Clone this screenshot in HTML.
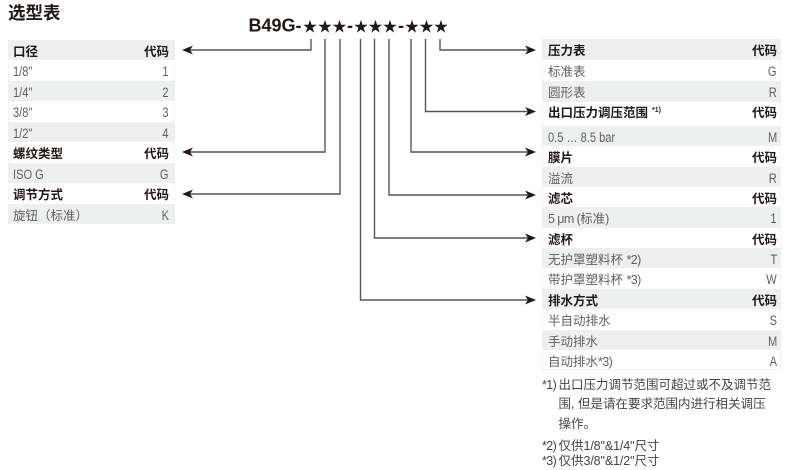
<!DOCTYPE html>
<html lang="zh">
<head>
<meta charset="utf-8">
<style>
html,body{margin:0;padding:0;background:#fff}
#p{position:relative;width:790px;height:470px;overflow:hidden;background:#fff;font-family:"Liberation Sans","Noto Sans CJK SC",sans-serif;color:#5f5f5f}
.r{position:absolute;box-sizing:border-box;font-size:12.5px;white-space:nowrap}
.l{left:8px;width:167px}
.n{left:542px;width:239px}
.g{background:#eef0ef}
.w{background:#fff;box-shadow:inset 1px 0 #f3f4f3,inset -1px 0 #f3f4f3}
.r b,.r i{position:absolute;font-style:normal;font-weight:normal;top:calc(50% + 1.5px);transform:translateY(-50%);line-height:16px}
.r b{left:5px}
.n b{left:6px}
.r i{right:5px}
.l i{right:6px}
.n i{right:4px}
.h{color:#231815;font-size:12.5px}
.h b,.h i{font-weight:bold}
.c{display:inline-block;font-size:13.5px;transform:scaleX(.82);transform-origin:0 50%}
.r i .c{transform-origin:100% 50%}
sup{font-size:7px;line-height:0;vertical-align:5px;margin-left:4px}
.t{position:absolute;white-space:nowrap;line-height:16px;font-size:12.5px;color:#444}
.s{letter-spacing:-.6px}
.q{letter-spacing:-.15px}
svg{position:absolute;left:0;top:0}
</style>
</head>
<body>
<div id="p">
<div class="t" style="left:8px;top:3px;font-size:17.5px;line-height:20px;color:#231815;font-weight:bold">选型表</div>

<div class="r l g h" style="top:40px;height:20px"><b>口径</b><i>代码</i></div>
<div class="r l w" style="top:60px;height:21px"><b><span class="c">1/8"</span></b><i><span class="c">1</span></i></div>
<div class="r l g" style="top:81px;height:20px"><b><span class="c">1/4"</span></b><i><span class="c">2</span></i></div>
<div class="r l w" style="top:101px;height:21px"><b><span class="c">3/8"</span></b><i><span class="c">3</span></i></div>
<div class="r l g" style="top:122px;height:20px"><b><span class="c">1/2"</span></b><i><span class="c">4</span></i></div>
<div class="r l w h" style="top:142px;height:21px"><b>螺纹类型</b><i>代码</i></div>
<div class="r l g" style="top:163px;height:20px"><b><span class="c">ISO G</span></b><i><span class="c">G</span></i></div>
<div class="r l w h" style="top:183px;height:21px"><b>调节方式</b><i>代码</i></div>
<div class="r l g" style="top:204px;height:20px"><b>旋钮（标准）</b><i><span class="c">K</span></i></div>

<div class="r n g h" style="top:39px;height:21px"><b>压力表</b><i>代码</i></div>
<div class="r n w" style="top:60px;height:21px"><b>标准表</b><i><span class="c">G</span></i></div>
<div class="r n g" style="top:81px;height:21px"><b>圆形表</b><i><span class="c">R</span></i></div>
<div class="r n w h" style="top:102px;height:24px"><b style="top:calc(50% - 1px)">出口压力调压范围<sup>*1)</sup></b><i style="top:calc(50% - 1px)">代码</i></div>
<div class="r n g" style="top:126px;height:20px"><b><span class="c">0.5 … 8.5 bar</span></b><i><span class="c">M</span></i></div>
<div class="r n w h" style="top:146px;height:21px"><b>膜片</b><i>代码</i></div>
<div class="r n g" style="top:167px;height:20px"><b>溢流</b><i><span class="c">R</span></i></div>
<div class="r n w h" style="top:187px;height:20px"><b>滤芯</b><i>代码</i></div>
<div class="r n g" style="top:207px;height:21px"><b><span class="s">5 μm (</span>标准<span class="s">)</span></b><i><span class="c">1</span></i></div>
<div class="r n w h" style="top:228px;height:20px"><b>滤杯</b><i>代码</i></div>
<div class="r n g" style="top:248px;height:20px"><b>无护罩塑料杯 <span class="s">*2)</span></b><i><span class="c">T</span></i></div>
<div class="r n w" style="top:268px;height:21px"><b>带护罩塑料杯 <span class="s">*3)</span></b><i><span class="c">W</span></i></div>
<div class="r n g h" style="top:289px;height:20px"><b>排水方式</b><i>代码</i></div>
<div class="r n w" style="top:309px;height:21px"><b>半自动排水</b><i><span class="c">S</span></i></div>
<div class="r n g" style="top:330px;height:20px"><b>手动排水</b><i><span class="c">M</span></i></div>
<div class="r n w" style="top:350px;height:20px;box-shadow:inset 1px 0 #f0f1f0,inset -1px 0 #f0f1f0,inset 0 -1px #f0f1f0"><b>自动排水<span class="s">*3)</span></b><i><span class="c">A</span></i></div>

<div class="t s" style="left:542px;top:377px">*1)</div>
<div class="t" style="left:558.5px;top:377px">出口压力调节范围可超过或不及调节范</div>
<div class="t" style="left:558.5px;top:396px">围, 但是请在要求范围内进行相关调压</div>
<div class="t" style="left:558.5px;top:416px">操作。</div>
<div class="t s" style="left:542px;top:438px">*2)</div>
<div class="t" style="left:558.5px;top:438px">仅供<span class="q">1/8''&amp;1/4''</span>尺寸</div>
<div class="t s" style="left:542px;top:453px">*3)</div>
<div class="t" style="left:558.5px;top:453px">仅供<span class="q">3/8''&amp;1/2''</span>尺寸</div>

<svg width="790" height="470" viewBox="0 0 790 470">
<g fill="none" stroke="#5a5552" stroke-width="1.4">
<path d="M311 39V50H190"/>
<path d="M325 39V152H190"/>
<path d="M340 39V194H190"/>
<path d="M360.5 39V300H530"/>
<path d="M374.5 39V238H530"/>
<path d="M389 39V195H530"/>
<path d="M411 39V152H530"/>
<path d="M425.5 39V111.5H530"/>
<path d="M440 39V50H530"/>
</g>
<g fill="#231815">
<path d="M182 50L193 45.5L190 50L193 54.5Z"/>
<path d="M182 152L193 147.5L190 152L193 156.5Z"/>
<path d="M182 194L193 189.5L190 194L193 198.5Z"/>
<path d="M536 50L525 45.5L528 50L525 54.5Z"/>
<path d="M536 111.5L525 107L528 111.5L525 116Z"/>
<path d="M536 152L525 147.5L528 152L525 156.5Z"/>
<path d="M536 195L525 190.5L528 195L525 199.5Z"/>
<path d="M536 238L525 233.5L528 238L525 242.5Z"/>
<path d="M536 300L525 295.5L528 300L525 304.5Z"/>
</g>
<g font-family="'Liberation Sans','Noto Sans CJK SC',sans-serif" font-weight="bold" font-size="18" fill="#231815">
<text x="248.5" y="31.5">B49G-</text>
<text x="347" y="31.5">-</text>
<text x="398" y="31.5">-</text>
</g>
<g font-family="'DejaVu Sans',sans-serif" font-size="17.5" fill="#231815" text-anchor="middle">
<text x="310" y="32.5">★</text><text x="325" y="32.5">★</text><text x="339.5" y="32.5">★</text>
<text x="361" y="32.5">★</text><text x="375.5" y="32.5">★</text><text x="390" y="32.5">★</text>
<text x="412" y="32.5">★</text><text x="426.5" y="32.5">★</text><text x="441" y="32.5">★</text>
</g>
</svg>
</div>
</body>
</html>
